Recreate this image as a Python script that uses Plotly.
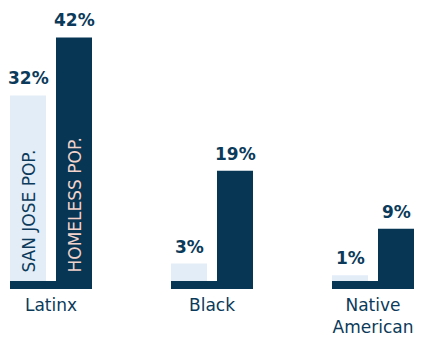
import plotly.graph_objects as go

categories = ["Latinx", "Black", "Native<br>American"]
san_jose_pop = [32, 3, 1]
homeless_pop = [42, 19, 9]
series_names = ["SAN JOSE POP.", "HOMELESS POP."]

DARK = "#063654"
LIGHT = "#e3edf8"
TEXT = "#0b3a5a"
PINK = "#f2d3cb"
FONT = "DejaVu Sans, sans-serif"

# page has an 8px body margin; figure is sized to fit the window
PAGE_OFF = 8
FIG_W = 422 - PAGE_OFF
FIG_H = 337 - PAGE_OFF

unit = 161.0        # px per category
px_per_pct = 5.8    # px per percentage point
first_center = 51 - PAGE_OFF
baseline_y = 281 - PAGE_OFF
plot_bottom = 289 - PAGE_OFF

bar_w = 36 / unit
gap = 10 / unit
off_light = -bar_w - gap / 2
off_dark = gap / 2
strip_h = (plot_bottom - baseline_y) / px_per_pct

xs = list(range(len(categories)))

fig = go.Figure()
# baseline strips under each group
fig.add_trace(go.Bar(x=xs, y=[strip_h] * len(xs), base=[-strip_h] * len(xs),
                     width=2 * bar_w + gap, offset=off_light,
                     marker=dict(color=DARK, line=dict(width=0)),
                     hoverinfo="skip", showlegend=False))
fig.add_trace(go.Bar(x=xs, y=san_jose_pop, width=bar_w, offset=off_light,
                     marker=dict(color=LIGHT, line=dict(width=0)),
                     name=series_names[0], showlegend=False))
fig.add_trace(go.Bar(x=xs, y=homeless_pop, width=bar_w, offset=off_dark,
                     marker=dict(color=DARK, line=dict(width=0)),
                     name=series_names[1], showlegend=False))

annotations = []
for i in xs:
    cl = i + off_light + bar_w / 2
    cd = i + off_dark + bar_w / 2
    annotations.append(dict(x=cl, y=san_jose_pop[i], text=f"<b>{san_jose_pop[i]}%</b>",
                            showarrow=False, yanchor="bottom", yshift=5,
                            font=dict(family=FONT, size=17, color=TEXT)))
    annotations.append(dict(x=cd, y=homeless_pop[i], text=f"<b>{homeless_pop[i]}%</b>",
                            showarrow=False, yanchor="bottom", yshift=5,
                            font=dict(family=FONT, size=17, color=TEXT)))
# rotated series labels inside the Latinx bars
annotations.append(dict(x=0 + off_light + bar_w / 2, y=0, text=series_names[0],
                        textangle=-90, showarrow=False, yanchor="bottom", yshift=6,
                        font=dict(family=FONT, size=17, color=TEXT)))
annotations.append(dict(x=0 + off_dark + bar_w / 2, y=0, text=series_names[1],
                        textangle=-90, showarrow=False, yanchor="bottom", yshift=6,
                        font=dict(family=FONT, size=17, color=PINK)))

fig.update_layout(
    width=FIG_W, height=FIG_H,
    margin=dict(l=0, r=0, t=0, b=FIG_H - plot_bottom),
    paper_bgcolor="white", plot_bgcolor="white",
    barmode="overlay",
    xaxis=dict(range=[-first_center / unit, (FIG_W - first_center) / unit],
               tickmode="array", tickvals=xs, ticktext=categories,
               showgrid=False, zeroline=False, showline=False, ticks="",
               ticklabelstandoff=4, automargin=False,
               tickfont=dict(family=FONT, size=17, color=TEXT)),
    yaxis=dict(range=[-strip_h, baseline_y / px_per_pct], visible=False,
               showgrid=False, zeroline=False, automargin=False),
    annotations=annotations,
)

fig.write_html("out.html")
